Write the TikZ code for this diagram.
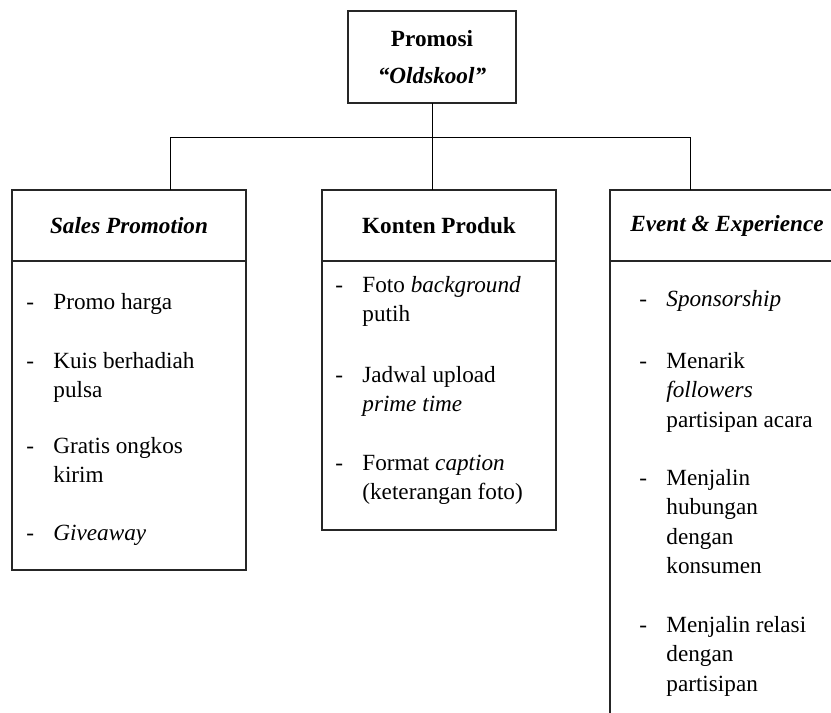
\documentclass[tikz,border=0pt]{standalone}
\usepackage{fontspec}
\setmainfont{Liberation Serif}
\usepackage{tikz}
\usetikzlibrary{positioning}
\newlength{\butirgap}
\setlength{\butirgap}{13.5pt}
\newcommand{\butir}[1]{\makebox[\butirgap][l]{-}\parbox[t]{95pt}{\raggedright #1}}
\tikzstyle{base} = [rectangle, draw=black!85, line width=0.75pt, outer sep=0pt, inner sep=0pt, font=\fontsize{11.6}{14.75}\selectfont]
\tikzstyle{rootBox} = [base, minimum width=84pt, minimum height=46pt, align=center, font=\fontsize{11.6}{18.5}\selectfont\bfseries]
\tikzstyle{headBox} = [base, minimum width=117pt, minimum height=35.5pt, font=\fontsize{11.6}{14.75}\selectfont\bfseries]
\tikzstyle{bodyBox} = [base, minimum width=117pt]
\tikzstyle{item} = [anchor=base west, inner sep=0pt, font=\fontsize{11.6}{14.75}\selectfont]
\tikzstyle{link} = [draw=black, line width=0.5pt]

\begin{document}
\begin{tikzpicture}[x=0.5pt, y=-0.5pt]
    \useasboundingbox (0,0) rectangle (831,713);
    \clip (0,0) rectangle (831,713);

    \node (promosi) [rootBox] at (432,57) {Promosi\\\textit{“Oldskool”}};

    \node (sales) [headBox] at (129,225.5) {\textit{Sales Promotion}};
    \node (salesBody) [bodyBox, minimum height=154.5pt, below=0pt of sales] {};
    \node (konten) [headBox] at (439,225.5) {Konten Produk};
    \node (kontenBody) [bodyBox, minimum height=134.5pt, below=0pt of konten] {};
    \node (event) [headBox] at (727,225.5) {\textit{Event \& Experience}};
    \node (eventBody) [bodyBox, minimum height=260pt, below=0pt of event] {};

    % sales promotion
    \node (sp1) [item] at (26,309) {\butir{Promo harga}};
    \node (sp2) [item] at (26,368) {\butir{Kuis berhadiah\\ pulsa}};
    \node (sp3) [item] at (26,453) {\butir{Gratis ongkos\\ kirim}};
    \node (sp4) [item] at (26,540) {\butir{\textit{Giveaway}}};

    % konten produk
    \node (kp1) [item] at (335,292) {\butir{Foto \textit{background}\\ putih}};
    \node (kp2) [item] at (335,382) {\butir{Jadwal upload\\ \textit{prime time}}};
    \node (kp3) [item] at (335,470) {\butir{Format \textit{caption}\\ (keterangan foto)}};

    % event & experience
    \node (ee1) [item] at (639,306) {\butir{\textit{Sponsorship}}};
    \node (ee2) [item] at (639,368) {\butir{Menarik\\ \textit{followers}\\ partisipan acara}};
    \node (ee3) [item] at (639,485) {\butir{Menjalin\\ hubungan\\ dengan\\ konsumen}};
    \node (ee4) [item] at (639,632) {\butir{Menjalin relasi\\ dengan\\ partisipan}};

    \coordinate (busL) at (170,137);
    \coordinate (busR) at (690,137);
    \draw[link] (busL) -- (busR);
    \draw[link] (promosi.south) -- (promosi.south |- konten.north);
    \draw[link] (busL) -- (busL |- sales.north);
    \draw[link] (busR) -- (busR |- event.north);
\end{tikzpicture}
\end{document}
